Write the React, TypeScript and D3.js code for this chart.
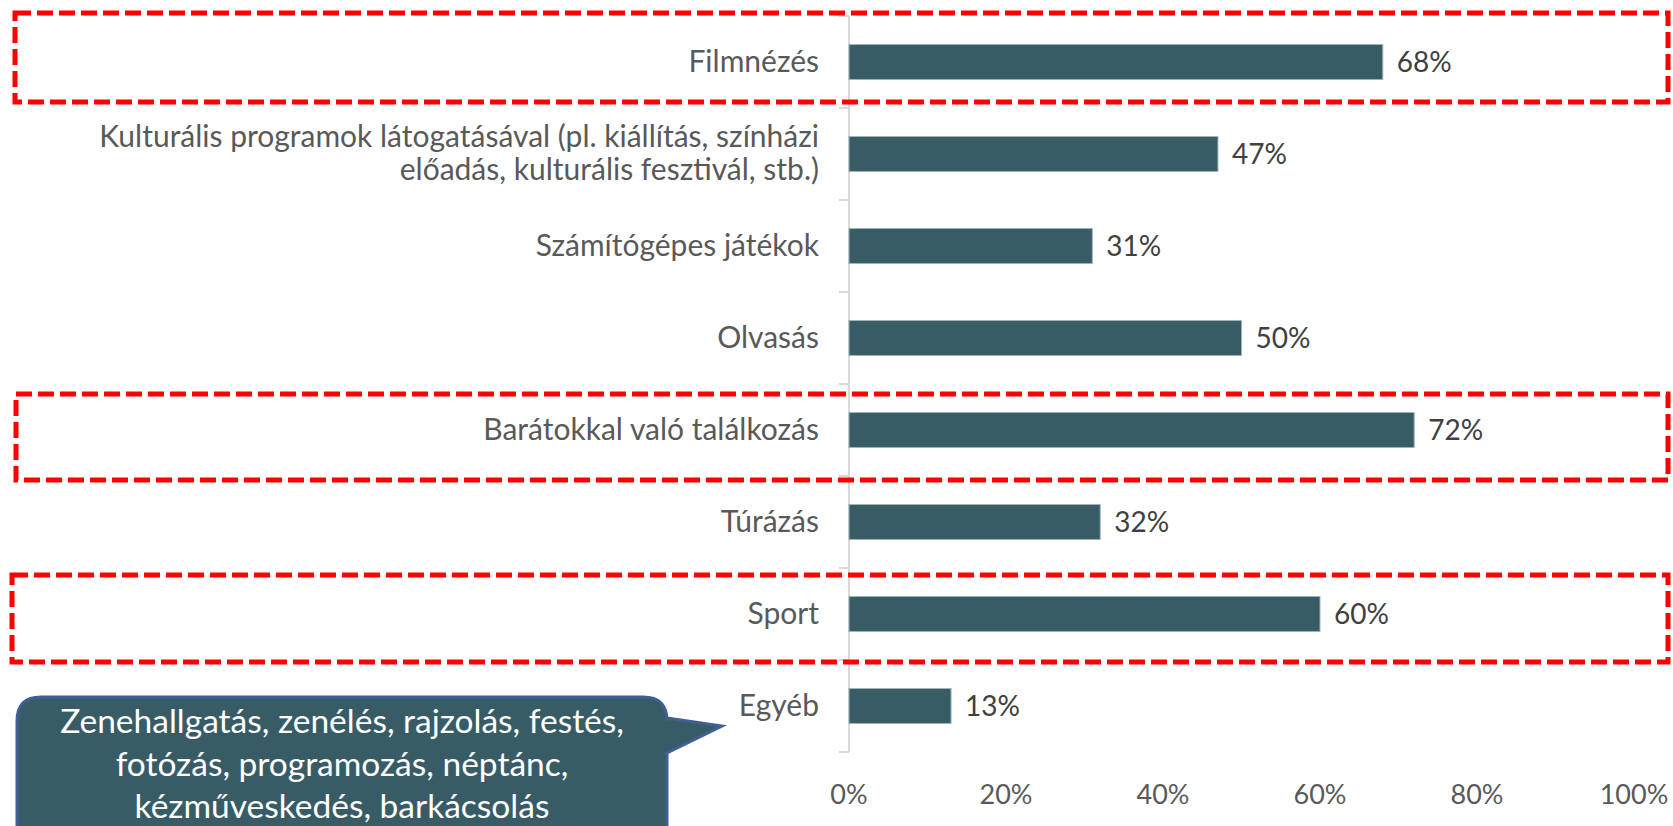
import React from 'react';
import * as d3 from 'd3';

const categories = [
  'Filmnézés',
  'Kulturális programok látogatásával (pl. kiállítás, színházi|előadás, kulturális fesztivál, stb.)',
  'Számítógépes játékok',
  'Olvasás',
  'Barátokkal való találkozás',
  'Túrázás',
  'Sport',
  'Egyéb',
];
const values = [0.68, 0.47, 0.31, 0.5, 0.72, 0.32, 0.6, 0.13];
const xTicks = [0, 0.2, 0.4, 0.6, 0.8, 1];
const highlighted = ['Filmnézés', 'Barátokkal való találkozás', 'Sport'];
const calloutLines = [
  'Zenehallgatás, zenélés, rajzolás, festés,',
  'fotózás, programozás, néptánc,',
  'kézműveskedés, barkácsolás',
];

const W = 1673;
const H = 826;
const FONT = 'Lato, "Open Sans", sans-serif';
const LINE_H = 33;

export default function App() {
  const x = d3.scaleLinear().domain([0, 1]).range([849, 1634]);
  const y = d3.scaleBand().domain(categories).range([16, 752]).paddingInner(0.62).paddingOuter(0.31);
  const step = y.step();
  const pct = d3.format('.0%');

  // highlight box offsets (top/bottom relative to band centre), left edge
  const boxes = [
    { top: -49, bottom: 40, left: 15 },
    { top: -36, bottom: 50, left: 16 },
    { top: -39, bottom: 48, left: 12 },
  ];

  // callout with tail
  const bx0 = 17, bx1 = 667, by0 = 697, by1 = 860, r = 24;
  const callout = d3.path();
  callout.moveTo(bx0 + r, by0);
  callout.lineTo(bx1 - r, by0);
  callout.quadraticCurveTo(bx1, by0, bx1, by0 + r);
  callout.lineTo(bx1, 718);
  callout.lineTo(722, 726);
  callout.lineTo(bx1, 753);
  callout.lineTo(bx1, by1 - r);
  callout.quadraticCurveTo(bx1, by1, bx1 - r, by1);
  callout.lineTo(bx0 + r, by1);
  callout.quadraticCurveTo(bx0, by1, bx0, by1 - r);
  callout.lineTo(bx0, by0 + r);
  callout.quadraticCurveTo(bx0, by0, bx0 + r, by0);
  callout.closePath();

  const bounds = d3.range(categories.length + 1).map((i) => 16 + i * step);

  return (
    <svg width={W} height={H} style={{ position: 'absolute', left: 0, top: 0, background: '#fff' }} fontFamily={FONT}>
      {/* y axis */}
      <line x1={x(0)} x2={x(0)} y1={16} y2={752} stroke="#d9d9d9" strokeWidth={2} />
      {bounds.map((b, i) => (
        <line key={i} x1={x(0) - 10} x2={x(0)} y1={b} y2={b} stroke="#d9d9d9" strokeWidth={2} />
      ))}

      {/* bars */}
      {categories.map((c, i) => {
        const cy = (y(c) as number) + y.bandwidth() / 2;
        const lines = c.split('|');
        return (
          <g key={c}>
            <rect x={x(0)} y={y(c)} width={x(values[i]) - x(0)} height={y.bandwidth()} fill="#375c66" stroke="#9fb3b8" strokeWidth={1} />
            <text x={x(values[i]) + 14} y={cy} dy="0.35em" fontSize={28} fill="#404040">
              {pct(values[i])}
            </text>
            <text textAnchor="end" fontSize={30} fill="#595959">
              {lines.map((line, j) => (
                <tspan key={j} x={819} y={cy + (j - (lines.length - 1) / 2) * LINE_H} dy="0.33em">
                  {line}
                </tspan>
              ))}
            </text>
          </g>
        );
      })}

      {/* x tick labels */}
      {xTicks.map((t) => (
        <text key={t} x={x(t)} y={795} dy="0.35em" textAnchor="middle" fontSize={27} fill="#595959">
          {pct(t)}
        </text>
      ))}

      {/* highlight boxes */}
      {highlighted.map((c, i) => {
        const cy = (y(c) as number) + y.bandwidth() / 2;
        const b = boxes[i];
        return (
          <rect key={c} x={b.left} y={cy + b.top} width={1668 - b.left} height={b.bottom - b.top}
            fill="none" stroke="#ff0000" strokeWidth={5} strokeDasharray="16 6" />
        );
      })}

      {/* callout */}
      <path d={callout.toString()} fill="#385c66" stroke="#3f5f95" strokeWidth={3} />
      <text textAnchor="middle" fontSize={33.5} fill="#ffffff">
        {calloutLines.map((l, i) => (
          <tspan key={i} x={(bx0 + bx1) / 2} y={733 + i * 42.5}>
            {l}
          </tspan>
        ))}
      </text>
    </svg>
  );
}
